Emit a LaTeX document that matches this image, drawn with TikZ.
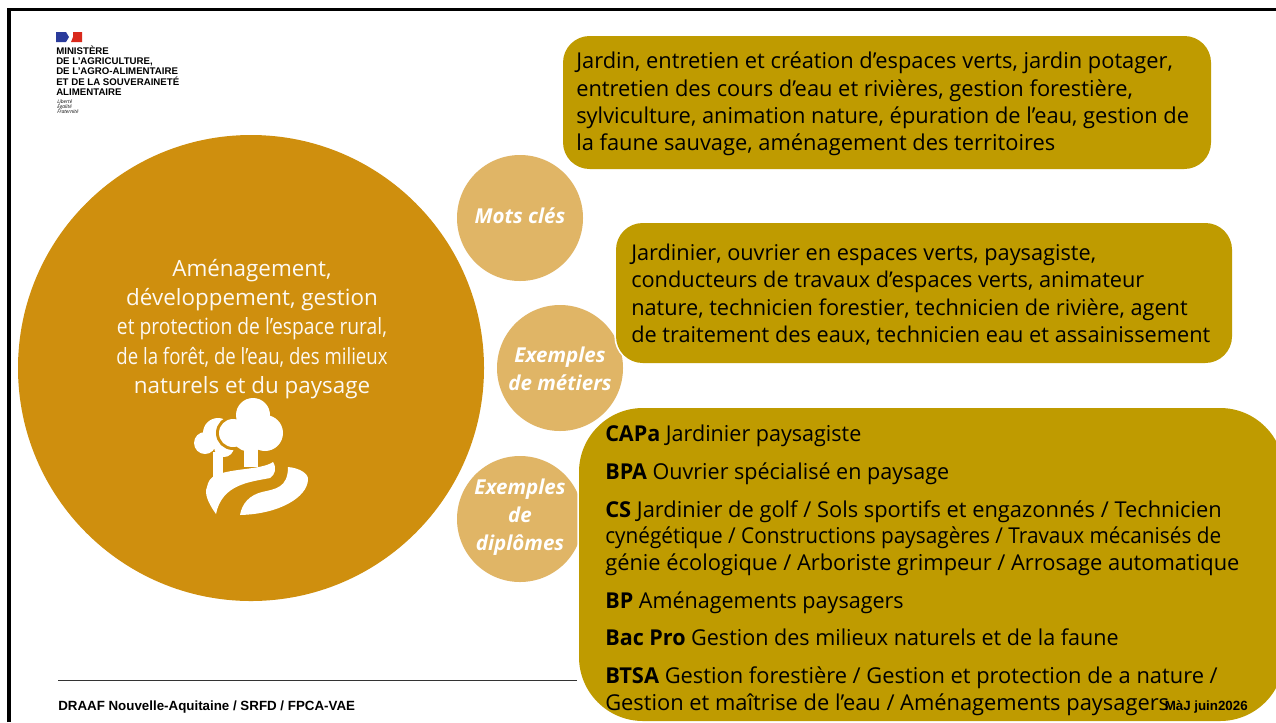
\documentclass[tikz,border=0pt]{standalone}
\usepackage{fontspec}
\setmainfont{Open Sans}
\newfontfamily\arialf{Liberation Sans}
\definecolor{maincirc}{HTML}{CF8F0E}
\definecolor{smallcirc}{HTML}{E0B566}
\definecolor{olivebox}{HTML}{BF9B00}
\definecolor{flagblue}{HTML}{2A3B9B}
\definecolor{flagred}{HTML}{D9291C}
\newcommand\sx[2]{\scalebox{#1}[1]{#2}}
\tikzset{
 bubble/.style={circle,fill=smallcirc,draw=none,minimum size=#1,inner sep=0pt},
 bubtext/.style={text=white,font=\fontsize{15.4}{21}\selectfont\bfseries\itshape,align=center},
 box/.style={fill=olivebox,rounded corners=#1},
 halo/.style={fill=white,draw=white,line width=2.5pt,rounded corners=#1},
 boxtext/.style={text=black,align=left,anchor=north west,inner sep=0pt},
}
\begin{document}
\begin{tikzpicture}[x=0.75pt,y=-0.75pt]
\useasboundingbox (0,0) rectangle (1276,722);
\fill[white] (0,0) rectangle (1276,722);
\draw[black,line width=2.3pt] (9,722) -- (9,9.7) -- (1276,9.7);
% logo
\fill[flagblue] (56,32) -- (66,32) -- (69,37) -- (66,42) -- (56,42) -- cycle;
\fill[flagred] (73,32) -- (82,32) -- (82,42) -- (71,42) -- (73,37) -- cycle;
\node[anchor=north west,inner sep=0pt,align=left,font=\arialf\bfseries\fontsize{7.25}{7.7}\selectfont] (logo) at (56,45.5) {MINISTÈRE\\DE L’AGRICULTURE,\\DE L’AGRO-ALIMENTAIRE\\ET DE LA SOUVERAINETÉ\\ALIMENTAIRE};
\node[anchor=north west,inner sep=0pt,align=left,font=\rmfamily\itshape\fontsize{3.7}{4}\selectfont] (devise) at (57,99) {Liberté\\Égalité\\Fraternité};
% main circle
\node[circle,fill=maincirc,minimum size=349.5pt,inner sep=0pt] (main) at (251,368) {};
\node[text=white!95!maincirc,align=center,font=\fontsize{16.8}{21.9}\selectfont] (maintext) at (252,329) {Aménagement,\\développement, gestion\\\sx{0.86}{et protection de l’espace rural,}\\\sx{0.83}{de la forêt, de l’eau, des milieux}\\naturels et du paysage};
% tree icon
\fill[white] (218,433) circle (15) (205,443) circle (11) (224,447) circle (10);
\fill[white] (213,452) rectangle (223,478);
\begin{scope}[maincirc,line width=4.5pt]
\filldraw (253,415) circle (17) (233,433) circle (14) (265,433) circle (18) (247,437) circle (14);
\end{scope}
\fill[white] (253,415) circle (17) (233,433) circle (14) (265,433) circle (18) (247,437) circle (14);
\fill[white] (244,445) rectangle (258,467);
\fill[white] (216,514) .. controls (208,503) and (204,493) .. (207,487) .. controls (208,481) and (211,478) .. (214,476) .. controls (230,468) and (262,470) .. (273,462) .. controls (277,468) and (275,475) .. (270,478) .. controls (250,482) and (222,484) .. (216,514) -- cycle;
\fill[white] (240,515) .. controls (242,503) and (250,495) .. (262,492) .. controls (275,489) and (288,488) .. (288,467) .. controls (300,468) and (309,474) .. (308,480) .. controls (307,497) and (280,514) .. (240,515) -- cycle;
% small circles
\node[bubble=94.5pt] (c1) at (520,218) {};
\node[bubtext] (t1) at (520,216) {Mots clés};
\node[bubble=94.5pt] (c2) at (560,368) {};
\node[bubtext] (t2) at (560,369) {Exemples\\de métiers};
\node[bubble=94.5pt] (c3) at (520,519) {};
\node[bubtext] (t3) at (520,517) {Exemples\\de\\diplômes};
% boxes
\fill[box=20] (563,36) rectangle (1211,169);
\node[boxtext,font=\fontsize{16.4}{20.5}\selectfont] (b1) at (576,51.7) {Jardin, entretien et création d’espaces verts, jardin potager,\\entretien des cours d’eau et rivières, gestion forestière,\\sylviculture, animation nature, épuration de l’eau, gestion de\\la faune sauvage, aménagement des territoires};
\path[halo=20] (616,223) rectangle (1232,363);
\fill[box=20] (616,223) rectangle (1232,363);
\node[boxtext,font=\fontsize{16.3}{20.4}\selectfont] (b2) at (631,244) {Jardinier, ouvrier en espaces verts, paysagiste,\\conducteurs de travaux d’espaces verts, animateur\\nature, technicien forestier, technicien de rivière, agent\\de traitement des eaux, technicien eau et assainissement};
\draw[black!80,line width=0.7pt] (58,680) -- (577,680);
\node[anchor=base west,inner sep=0pt,font=\arialf\bfseries\fontsize{10}{12}\selectfont] (foot) at (58,710) {DRAAF Nouvelle-Aquitaine / SRFD / FPCA-VAE};
\path[halo=48] (579,408) rectangle (1284,721);
\fill[box=48] (579,408) rectangle (1284,721);
\node[boxtext,font=\fontsize{16.4}{19.9}\selectfont] (b3) at (605,425) {\sx{0.985}{\textbf{CAPa} Jardinier paysagiste}\\[8.4pt]\sx{0.985}{\textbf{BPA} Ouvrier spécialisé en paysage}\\[8.4pt]\textbf{CS} Jardinier de golf / Sols sportifs et engazonnés / Technicien\\\sx{0.95}{cynégétique / Constructions paysagères / Travaux mécanisés de}\\génie écologique / Arboriste grimpeur / Arrosage automatique\\[8.4pt]\sx{0.985}{\textbf{BP} Aménagements paysagers}\\[8.4pt]\sx{0.985}{\textbf{Bac Pro} Gestion des milieux naturels et de la faune}\\[8.4pt]\textbf{BTSA} Gestion forestière / Gestion et protection de a nature /\\Gestion et maîtrise de l’eau / Aménagements paysagers};
\node[anchor=base east,inner sep=0pt,font=\arialf\bfseries\fontsize{10}{12}\selectfont] (maj) at (1248,710) {MàJ juin2026};
\end{tikzpicture}
\end{document}
